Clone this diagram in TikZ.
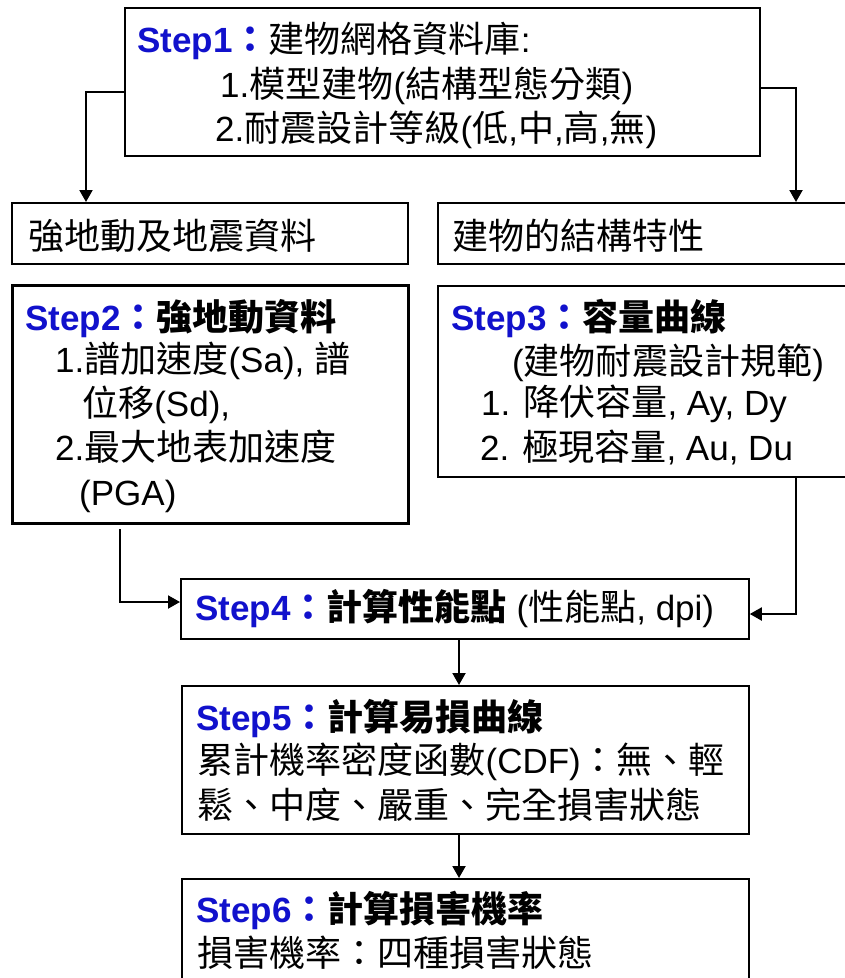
\documentclass[tikz,border=0pt]{standalone}
\usepackage{fontspec}
\setmainfont{Liberation Sans}
\newfontfamily\cjk[Scale=1.03]{Noto Sans CJK TC}
\usetikzlibrary{arrows.meta}
\definecolor{stepblue}{RGB}{17,17,204}
\newcommand{\C}[1]{{\cjk #1}}
\newcommand{\CB}[1]{{\cjk\bfseries #1}}
\newcommand{\stp}[1]{{\color{stepblue}\bfseries #1\CB{：}}}
\tikzset{
  box/.style={draw=black, line width=1.8pt, rectangle, inner sep=0pt, anchor=north west},
  txt/.style={anchor=base west, inner sep=0pt, font=\fontsize{35}{42}\selectfont},
  arr/.style={line width=2pt, -{Triangle[length=12pt,width=13pt]}},
}
\begin{document}
\begin{tikzpicture}[x=1pt,y=-1pt]
\useasboundingbox (0,0) rectangle (845,978);
\clip (0,0) rectangle (845,978);
\fill[white] (0,0) rectangle (845,978);
% boxes
\node[box, minimum width=635pt, minimum height=148pt] (b1) at (124,7) {};
\node[box, minimum width=396pt, minimum height=61pt] (bA) at (11,202) {};
\node[box, minimum width=420pt, minimum height=61pt] (bB) at (437,202) {};
\node[box, line width=2.8pt, minimum width=396pt, minimum height=238pt] (b2) at (11,284) {};
\node[box, minimum width=420pt, minimum height=191pt] (b3) at (437,285) {};
\node[box, minimum width=568pt, minimum height=60pt] (b4) at (180,578) {};
\node[box, minimum width=567pt, minimum height=148pt] (b5) at (181,685) {};
\node[box, minimum width=567pt, minimum height=140pt] (b6) at (181,878) {};
% texts
\node[txt] (t1a) at (137,52) {\stp{Step1}\C{建物網格資料庫}:};
\node[txt] (t1b) at (220,97) {1.\C{模型建物}(\C{結構型態分類})};
\node[txt] (t1c) at (215,141) {2.\C{耐震設計等級}(\C{低},\C{中},\C{高},\C{無})};
\node[txt] (tA) at (28,249) {\C{強地動及地震資料}};
\node[txt] (tB) at (452,249) {\C{建物的結構特性}};
\node[txt] (t2a) at (25,330) {\stp{Step2}\CB{強地動資料}};
\node[txt] (t2b) at (55,372) {1.\C{譜加速度}(Sa), \C{譜}};
\node[txt] (t2c) at (82,416) {\C{位移}(Sd),};
\node[txt] (t2d) at (55,460) {2.\C{最大地表加速度}};
\node[txt] (t2e) at (79,505) {(PGA)};
\node[txt] (t3a) at (451,330) {\stp{Step3}\CB{容量曲線}};
\node[txt] (t3b) at (512,374) {(\C{建物耐震設計規範})};
\node[txt] (t3c) at (481,415) {1. \C{降伏容量}, Ay, Dy};
\node[txt] (t3d) at (480,460) {2. \C{極現容量}, Au, Du};
\node[txt] (t4) at (195,620) {\stp{Step4}\CB{計算性能點} (\C{性能點}, dpi)};
\node[txt] (t5a) at (196,730) {\stp{Step5}\CB{計算易損曲線}};
\node[txt] (t5b) at (197,773) {\C{累計機率密度函數}(CDF)\C{：無、輕}};
\node[txt] (t5c) at (197,818) {\C{鬆、中度、嚴重、完全損害狀態}};
\node[txt] (t6a) at (196,922) {\stp{Step6}\CB{計算損害機率}};
\node[txt] (t6b) at (197,966) {\C{損害機率：四種損害狀態}};
% connectors
\coordinate (c1) at (86,92);
\coordinate (c2) at (796,88);
\coordinate (c3s) at (120,529);
\coordinate (c3) at (120,602);
\coordinate (c4) at (796,614);
\coordinate (c5) at (459,700);
\draw[arr] (b1.west |- c1) -- (c1) -- (c1 |- bA.north);
\draw[arr] (b1.east |- c2) -- (c2) -- (c2 |- bB.north);
\draw[arr] (c3s) -- (c3) -- (c3 -| b4.west);
\draw[arr] (c4 |- b3.south) -- (c4) -- (c4 -| b4.east);
\draw[arr] (c5 |- b4.south) -- (c5 |- b5.north);
\draw[arr] (c5 |- b5.south) -- (c5 |- b6.north);
\end{tikzpicture}
\end{document}
